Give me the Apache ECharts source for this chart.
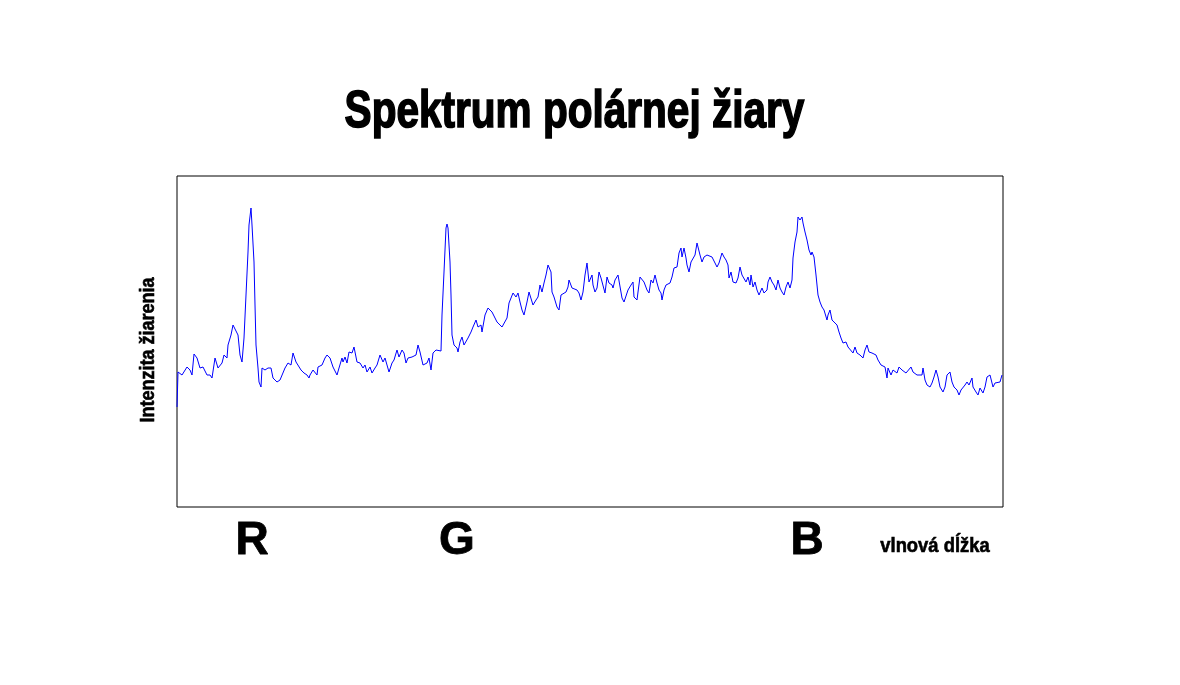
<!DOCTYPE html>
<html>
<head>
<meta charset="utf-8">
<script src="https://cdn.jsdelivr.net/npm/echarts@6/dist/echarts.min.js"></script>
<style>
html,body{margin:0;padding:0;background:#fff;}
#chart{width:1180px;height:685px;}
</style>
</head>
<body>
<div id="chart"></div>
<script>
// wavelength (arbitrary units, left to right)
const wavelength = [0,1,5,10,13,15,17,20,23,26,30,33,35,38,41,45,47,50,51,54,56,58,61,63,65,67,69,71,72,74,75,77,78,79,81,82,84,85,88,91,94,96,100,103,105,108,111,114,116,119,121,124,127,130,132,133,136,140,141,145,148,150,153,156,158,160,162,165,166,168,170,172,175,177,180,183,186,188,190,193,195,198,200,203,206,208,210,212,215,217,220,222,225,227,229,231,235,237,239,241,243,246,248,250,252,254,256,259,261,264,265,267,269,270,271,273,274,275,277,280,281,283,285,287,289,291,294,296,299,301,304,305,308,311,315,317,320,322,325,327,330,332,334,336,339,341,343,345,347,350,352,354,356,359,361,363,365,367,369,371,372,374,375,377,380,382,384,386,389,391,392,395,397,400,402,404,406,408,410,412,415,416,418,420,422,424,426,428,430,432,435,436,438,441,443,445,447,449,451,454,456,457,460,461,463,465,467,470,472,474,476,478,480,482,484,485,487,489,491,493,495,497,500,502,504,505,507,509,510,512,514,516,518,520,521,523,525,527,530,532,535,537,540,542,545,547,549,551,552,554,556,559,561,563,565,567,569,571,573,574,576,578,580,582,585,587,590,591,593,595,597,599,601,603,605,607,609,611,613,615,616,618,620,621,623,625,626,628,630,632,634,635,637,639,641,643,645,647,650,651,653,655,657,660,662,664,666,669,671,673,676,678,680,683,686,688,690,692,695,697,699,701,704,706,708,710,711,714,716,718,720,722,725,727,729,731,734,736,738,740,742,745,746,748,750,753,755,757,759,761,763,766,768,770,773,775,777,780,782,784,786,788,790,792,795,796,799,801,803,806,808,810,813,816,818,820,823,825];
// radiation intensity (arbitrary units)
const intensity = [100,135,132,140,137,132,153,149,139,140,132,132,129,149,139,144,152,149,162,172,182,184,172,152,145,169,212,255,282,299,282,245,202,162,139,125,120,139,137,139,139,129,125,127,125,139,144,142,154,145,144,137,134,132,129,132,137,132,140,142,149,152,149,140,142,132,139,149,145,150,144,155,154,160,145,144,139,142,135,140,134,139,142,152,145,149,150,135,144,147,157,150,157,154,144,149,150,149,152,162,155,142,140,144,149,137,154,157,155,156,192,235,279,283,279,245,212,172,162,159,155,165,170,162,164,169,175,180,187,180,182,175,192,199,195,194,185,184,180,182,189,204,202,214,210,214,205,197,192,205,215,217,202,207,210,222,215,224,232,242,240,235,215,210,200,197,212,212,215,220,227,219,220,217,214,207,215,232,244,225,232,222,215,219,235,229,230,214,230,224,222,219,227,232,230,209,205,204,217,222,225,210,207,215,230,229,225,217,214,227,224,232,224,217,214,207,217,222,224,224,230,239,240,254,259,250,259,249,242,235,245,244,252,264,265,252,245,250,252,250,250,249,240,244,254,250,247,242,229,235,225,224,229,240,232,230,225,230,222,232,220,225,217,212,219,214,217,225,230,225,222,217,227,219,215,212,220,225,219,227,249,265,275,290,287,290,284,275,267,257,252,255,250,232,212,205,200,197,187,192,197,187,185,182,175,169,164,165,160,162,154,160,154,152,149,157,162,155,154,155,152,147,142,142,140,129,139,132,137,139,134,140,137,139,134,135,140,135,135,132,130,132,139,127,122,120,124,130,137,130,120,115,120,132,135,125,120,117,112,117,119,122,125,122,129,120,115,112,119,114,120,130,132,120,124,125,125,132];
// band labels under the spectrum
const bandLabels = ['R', 'G', 'B'];
const bandPositions = [75, 280, 630];

const points = wavelength.map((w, i) => [w, intensity[i]]);
const bandMap = {};
bandPositions.forEach((p, i) => { bandMap[p] = bandLabels[i]; });

const chart = echarts.init(document.getElementById('chart'), null, {renderer: 'canvas'});
const FONT = '"Liberation Sans", Arial, sans-serif';
chart.setOption({
  animation: false,
  backgroundColor: '#ffffff',
  grid: {
    left: 177, right: 177, top: 176, bottom: 178,
    show: true, borderColor: '#000000', borderWidth: 1, backgroundColor: 'transparent'
  },
  xAxis: {
    type: 'value', min: 0, max: 826,
    axisLine: {show: false}, axisTick: {show: false}, splitLine: {show: false},
    axisLabel: {
      show: true,
      customValues: bandPositions,
      formatter: v => bandMap[v] || '',
      fontFamily: FONT, fontWeight: 'bold', fontSize: 46, color: '#000',
      textBorderColor: '#000', textBorderWidth: 0.8,
      margin: 34, verticalAlign: 'middle'
    }
  },
  yAxis: {
    type: 'value', min: 0, max: 331,
    axisLine: {show: false}, axisTick: {show: false}, splitLine: {show: false},
    axisLabel: {show: false}
  },
  series: [{
    type: 'line',
    data: points,
    showSymbol: false,
    lineStyle: {color: '#0000ff', width: 1},
    itemStyle: {color: '#0000ff'}
  }],
  graphic: [
    {
      type: 'text', x: 574.5, y: 113, scaleX: 0.78,
      style: {
        text: 'Spektrum polárnej žiary', x: 0, y: 0,
        font: 'bold 52px ' + FONT, fill: '#000',
        stroke: '#000', lineWidth: 1.6,
        textAlign: 'center', textVerticalAlign: 'middle'
      }
    },
    {
      type: 'text', x: 148, y: 350, rotation: Math.PI / 2, scaleX: 0.9,
      style: {
        text: 'Intenzita žiarenia', x: 0, y: 0,
        font: 'bold 20px ' + FONT, fill: '#000',
        stroke: '#000', lineWidth: 0.6,
        textAlign: 'center', textVerticalAlign: 'middle'
      }
    },
    {
      type: 'text', x: 935, y: 546, scaleX: 0.92,
      style: {
        text: 'vlnová dĺžka', x: 0, y: 0,
        font: 'bold 20px ' + FONT, fill: '#000',
        stroke: '#000', lineWidth: 0.6,
        textAlign: 'center', textVerticalAlign: 'middle'
      }
    }
  ]
});
</script>
</body>
</html>
